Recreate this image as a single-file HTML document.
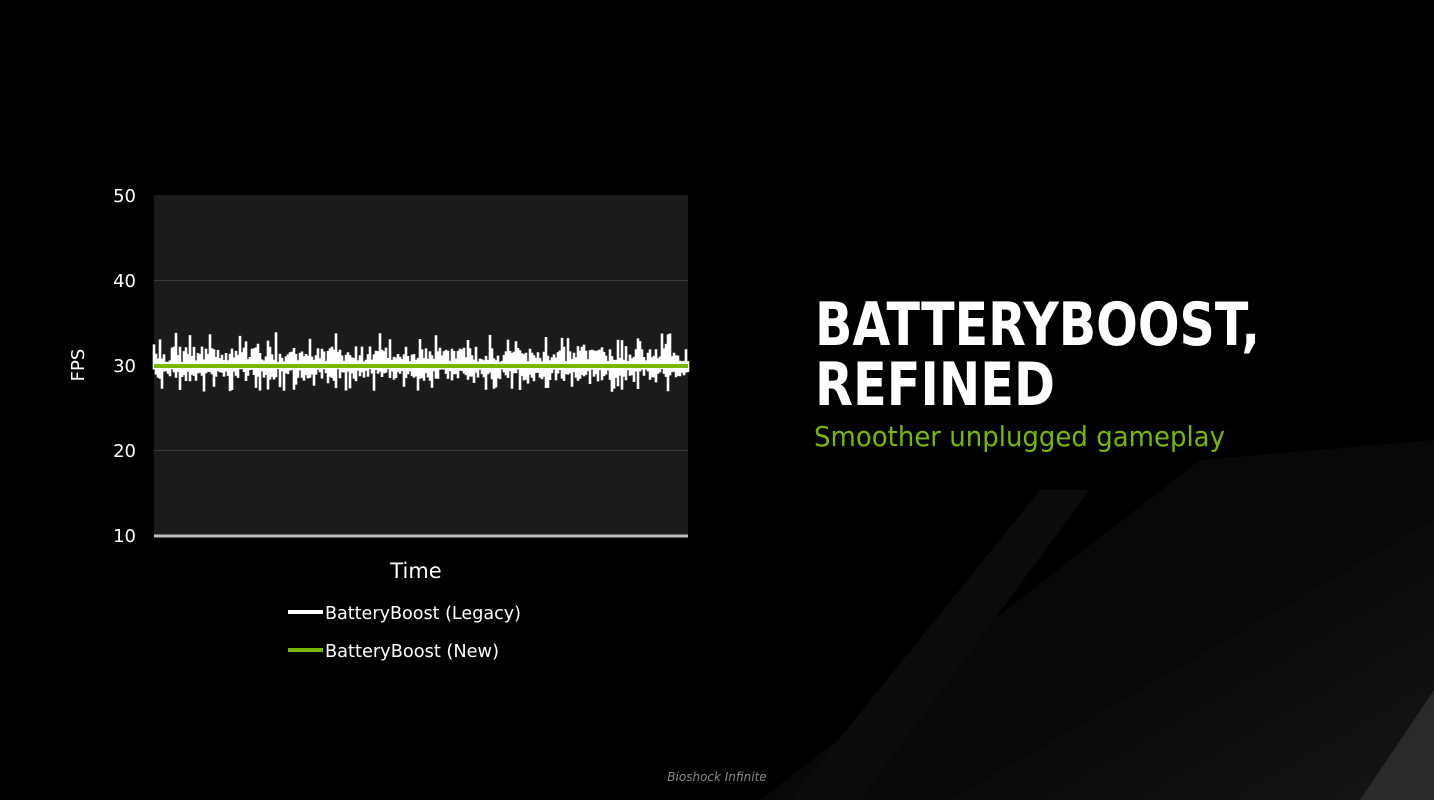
<!DOCTYPE html>
<html><head><meta charset="utf-8"><style>
html,body{margin:0;padding:0;background:#000;}
svg{display:block;}
text{font-family:"DejaVu Sans","Liberation Sans",sans-serif;}
</style></head><body>
<svg id="s" width="1434" height="800" viewBox="0 0 1434 800" xmlns="http://www.w3.org/2000/svg">
<defs>
<linearGradient id="g1" x1="0" y1="0" x2="1" y2="1"><stop offset="0" stop-color="#000"/><stop offset="1" stop-color="#151515"/></linearGradient>
</defs>
<rect width="1434" height="800" fill="#000"/>
<polygon points="1200,460 1434,440 1434,800 760,800" fill="#080808"/>
<polygon points="1434,520 1434,800 950,800" fill="url(#g1)"/>
<polygon points="1040,490 1090,490 860,800 790,800" fill="#0b0b0b"/>
<polygon points="1434,690 1434,800 1360,800" fill="#2a2a2a"/>
<!-- chart -->
<rect x="154" y="195" width="534" height="341" fill="#1b1b1b"/>
<line x1="154" y1="280.5" x2="688" y2="280.5" stroke="#3a3a3a" stroke-width="1"/>
<line x1="154" y1="450.5" x2="688" y2="450.5" stroke="#3a3a3a" stroke-width="1"/>
<g id="noise"></g>
<line x1="154" y1="366" x2="688" y2="366" stroke="#76b900" stroke-width="4"/>
<line x1="154" y1="536" x2="688" y2="536" stroke="#bfbfbf" stroke-width="3"/>
<g fill="#fff" font-size="18" text-anchor="end">
<text x="136" y="202">50</text>
<text x="136" y="287">40</text>
<text x="136" y="372">30</text>
<text x="136" y="457">20</text>
<text x="136" y="542">10</text>
</g>
<text x="0" y="0" fill="#fff" font-size="18" text-anchor="middle" transform="translate(84,365) rotate(-90)">FPS</text>
<text x="416" y="578" fill="#fff" font-size="21" text-anchor="middle">Time</text>
<line x1="288" y1="612" x2="323" y2="612" stroke="#fff" stroke-width="4"/>
<text x="325" y="619" fill="#fff" font-size="18" textLength="196" lengthAdjust="spacingAndGlyphs">BatteryBoost (Legacy)</text>
<line x1="288" y1="650" x2="323" y2="650" stroke="#76b900" stroke-width="4"/>
<text x="325" y="657" fill="#fff" font-size="18" textLength="174" lengthAdjust="spacingAndGlyphs">BatteryBoost (New)</text>
<text x="815" y="345" fill="#fff" font-size="60" font-weight="bold" textLength="445" lengthAdjust="spacingAndGlyphs">BATTERYBOOST,</text>
<text x="815" y="405" fill="#fff" font-size="60" font-weight="bold" textLength="240" lengthAdjust="spacingAndGlyphs">REFINED</text>
<text x="814" y="446" fill="#76b900" font-size="28" textLength="411" lengthAdjust="spacingAndGlyphs">Smoother unplugged gameplay</text>
<text x="717" y="781" fill="#8a8a8a" font-size="12" font-style="italic" text-anchor="middle">Bioshock Infinite</text>
</svg>
<script>
(function(){
var seed=11;function r(){seed=(seed*16807)%2147483647;return seed/2147483647;}
var d="";var x=154;
while(x<=688){
 var a=r(),b=r();
 var top=366-(a<0.2? 16+r()*18 : 4+r()*16);
 var bot=366+(b<0.2? 14+r()*12 : 3+r()*12);
 d+="M"+x.toFixed(1)+","+top.toFixed(1)+"V"+bot.toFixed(1);
 x+=2.0;
}
var p=document.createElementNS("http://www.w3.org/2000/svg","path");
p.setAttribute("d",d);
p.setAttribute("fill","none");p.setAttribute("stroke","#fff");p.setAttribute("stroke-width","2.6");
document.getElementById("noise").appendChild(p);
})();
</script>
</body></html>
